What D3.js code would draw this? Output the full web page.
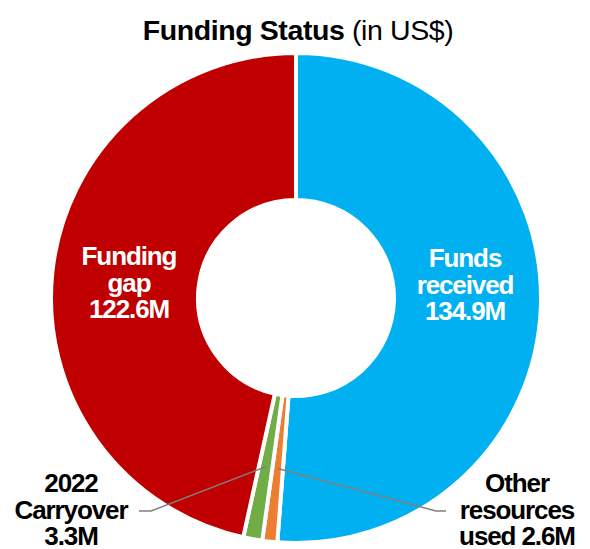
<!DOCTYPE html>
<html>
<head>
<meta charset="utf-8">
<script src="https://cdn.jsdelivr.net/npm/d3@7"></script>
<style>
  body { margin: 0; background: #fff; }
  svg { display: block; font-family: "Liberation Sans", Arial, sans-serif; }
</style>
</head>
<body>
<svg id="chart" width="590" height="549"></svg>
<script>
/* Funding Status donut */

const categories = ["Funds received", "Other resources used", "2022 Carryover", "Funding gap"];
const values = [134.9, 2.6, 3.3, 122.6];
const labelLines = [
  ["Funds", "received", "134.9M"],
  ["Other", "resources", "used 2.6M"],
  ["2022", "Carryover", "3.3M"],
  ["Funding", "gap", "122.6M"],
];
const colors = ["#00B0F0", "#ED7D31", "#70AD47", "#C00000"];

const width = 590, height = 549;
const cx = 296, cy = 298;
const outerR = 245, innerR = 98;

const svg = d3.select("#chart");

// Title
const title = svg.append("text")
  .attr("x", 298)
  .attr("y", 40)
  .attr("text-anchor", "middle")
  .attr("font-size", 28.5)
  .attr("letter-spacing", "-0.4px")
  .attr("fill", "#000");
title.append("tspan").attr("font-weight", "bold").text("Funding Status");
title.append("tspan").text(" (in US$)");

const data = categories.map((c, i) => ({ name: c, value: values[i], lines: labelLines[i], color: colors[i] }));

const pie = d3.pie().sort(null).value((d) => d.value);
const arcs = pie(data);

const arc = d3.arc().innerRadius(innerR).outerRadius(outerR);
const midArc = d3.arc().innerRadius(171.5).outerRadius(171.5);

const g = svg.append("g").attr("transform", `translate(${cx},${cy})`);

g.selectAll("path.slice")
  .data(arcs)
  .join("path")
  .attr("class", "slice")
  .attr("d", arc)
  .attr("fill", (d) => d.data.color)
  .attr("stroke", "#fff")
  .attr("stroke-width", 4)
  .attr("stroke-linejoin", "miter");

// Inside labels (large slices)
const inside = [
  { i: 0, x: 465, y: 267 },
  { i: 3, x: 129, y: 265 },
];
// Outside labels with leader lines
const outside = [
  { i: 1, x: 517, y: 492, elbow: [436, 511], end: [446, 511] },
  { i: 2, x: 71, y: 492, elbow: [151, 511], end: [139, 511] },
];

const lineGap = 26.5;

function drawLabel(x, y, lines, fill) {
  const t = svg.append("text")
    .attr("text-anchor", "middle")
    .attr("font-size", 26)
    .attr("font-weight", "bold")
    .attr("letter-spacing", "-1.1px")
    .attr("fill", fill);
  lines.forEach((ln, k) => {
    t.append("tspan").attr("x", x).attr("y", y + k * lineGap).text(ln);
  });
}

for (const L of inside) {
  drawLabel(L.x, L.y, arcs[L.i].data.lines, "#fff");
}

for (const L of outside) {
  const c = midArc.centroid(arcs[L.i]);
  const pts = [[cx + c[0], cy + c[1]], L.elbow, L.end];
  svg.append("path")
    .attr("d", d3.line()(pts))
    .attr("fill", "none")
    .attr("stroke", "#7f7f7f")
    .attr("stroke-width", 1.5);
  drawLabel(L.x, L.y, arcs[L.i].data.lines, "#000");
}
</script>
</body>
</html>
